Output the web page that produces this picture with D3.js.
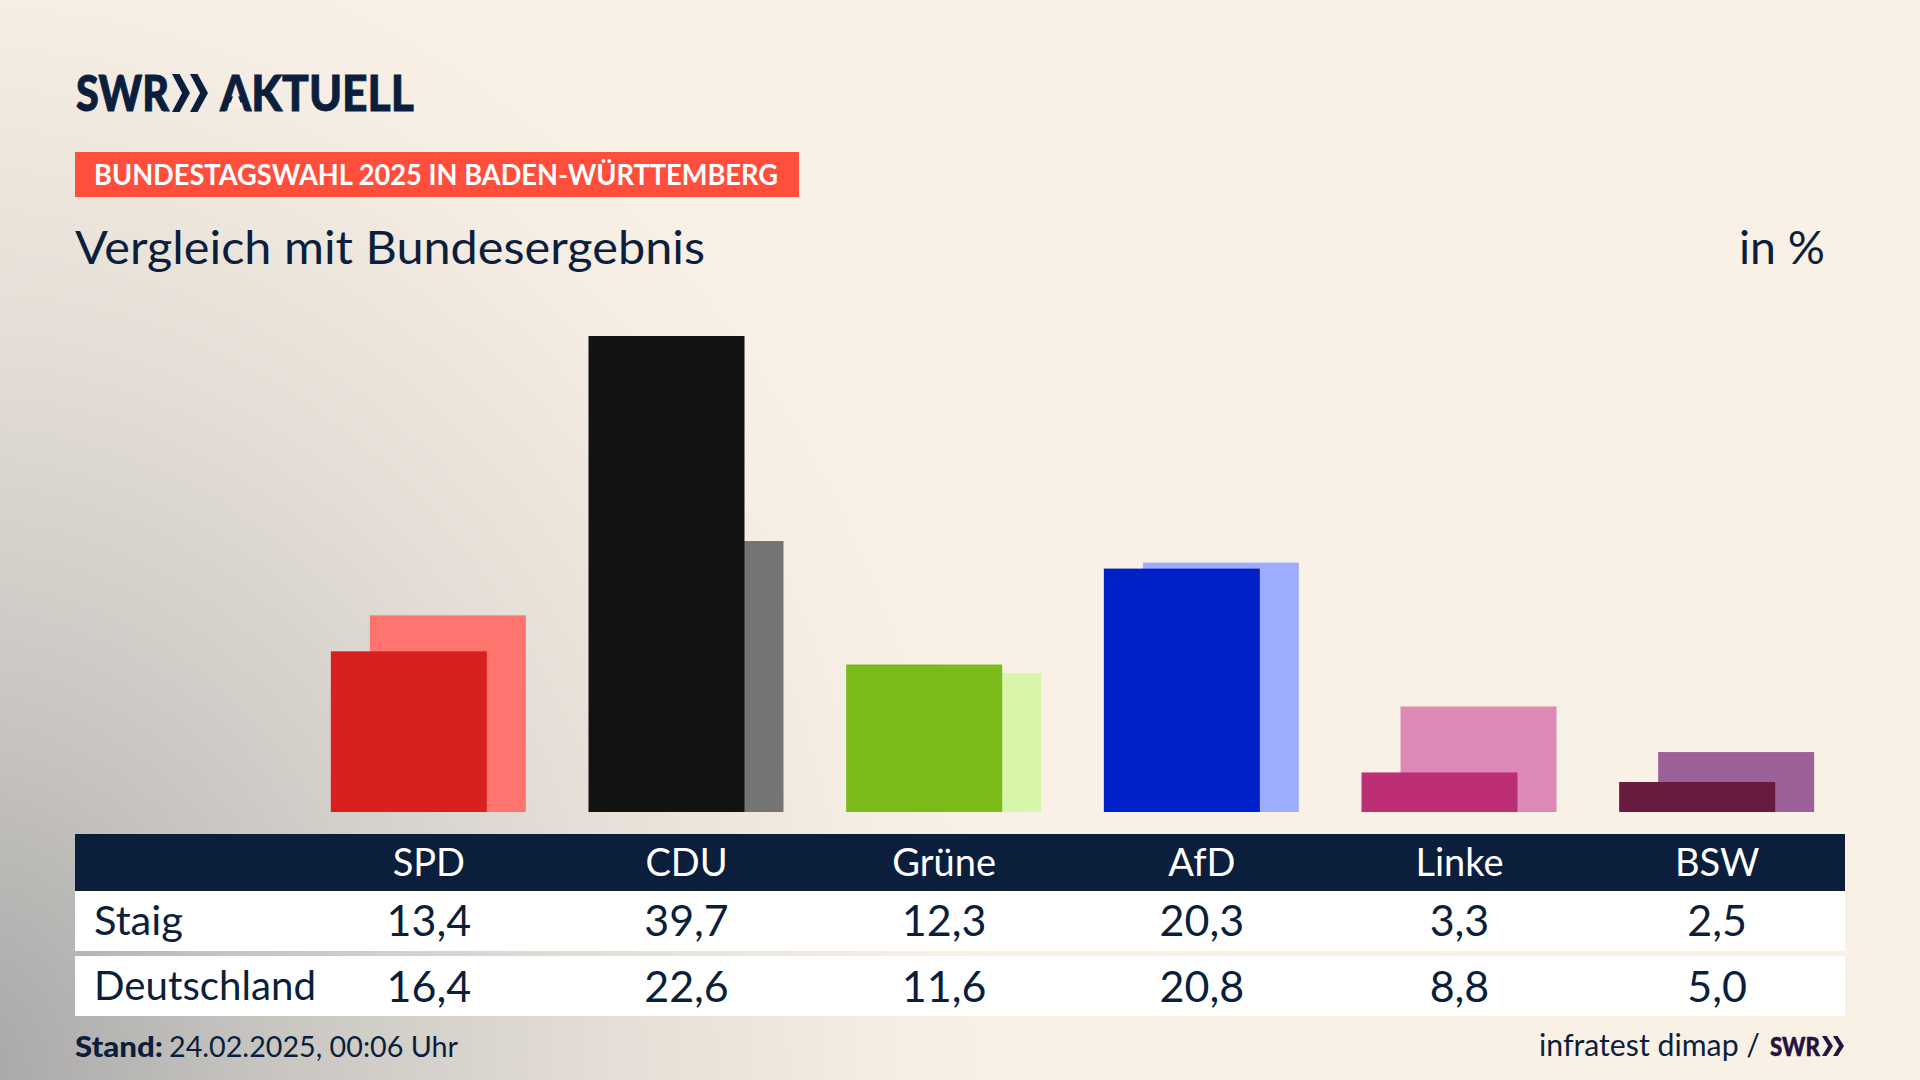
<!DOCTYPE html>
<html>
<head>
<meta charset="utf-8">
<script src="https://d3js.org/d3.v7.min.js"></script>
<style>
body { margin: 0; background: #faf1e6; }
svg { display: block; }
text { font-family: Lato, "Noto Sans", sans-serif; fill: #0b1f3d; }
</style>
</head>
<body>
<div id="chart"></div>
<script>
// Werte aus der Grafik
const parties = ["SPD", "CDU", "Grüne", "AfD", "Linke", "BSW"];
const staig = [13.4, 39.7, 12.3, 20.3, 3.3, 2.5];
const deutschland = [16.4, 22.6, 11.6, 20.8, 8.8, 5.0];
const staigColors = ["#d8201f", "#121212", "#7abb1a", "#0020c8", "#bc2f75", "#681a3f"];
const deutschlandColors = ["#ff746e", "#747472", "#d7f6aa", "#9dadff", "#de88b6", "#9c6198"];
const rowLabels = ["Staig", "Deutschland"];

const width = 1920, height = 1080;
const navy = "#0b1f3d";

const svg = d3.select("#chart").append("svg")
	.attr("width", width)
	.attr("height", height);

// Hintergrund mit grauem Verlauf von unten links
const grad = svg.append("defs").append("radialGradient")
	.attr("id", "bg")
	.attr("gradientUnits", "userSpaceOnUse")
	.attr("cx", 0).attr("cy", 0).attr("r", 1)
	.attr("gradientTransform", "translate(-50,1080) scale(1100,1250)");
[[0, "#a5a5a5"], [0.3, "#c9c6c2"], [0.6, "#e4ded6"], [0.86, "#f6eee4"], [1, "#faf1e6"]].forEach(([o, c]) => {
	grad.append("stop").attr("offset", o).attr("stop-color", c);
});
svg.append("rect").attr("width", width).attr("height", height).attr("fill", "#faf1e6");
svg.append("rect").attr("width", width).attr("height", height).attr("fill", "url(#bg)");

function label(x, y, str, size, opts = {}) {
	const t = svg.append("text")
		.attr("x", x)
		.attr("y", y)
		.attr("font-size", size)
		.attr("font-weight", opts.weight || 400)
		.attr("text-anchor", opts.anchor || "start")
		.text(str);
	if (opts.fill) t.style("fill", opts.fill);
	if (opts.len) t.attr("textLength", opts.len).attr("lengthAdjust", "spacingAndGlyphs");
	if (opts.stroke) t.style("stroke", opts.fill || navy).style("stroke-width", opts.stroke);
	return t;
}

// die zwei Pfeile aus dem SWR-Logo
function chevrons(x, y, w, h, fill) {
	[0, 0.5].forEach(f => {
		const x0 = x + f * w, s = w * 0.5;
		svg.append("path")
			.attr("d", `M${x0},${y}L${x0 + s * 0.42},${y}L${x0 + s},${y + h / 2}L${x0 + s * 0.42},${y + h}L${x0},${y + h}L${x0 + s * 0.56},${y + h / 2}Z`)
			.attr("fill", fill);
	});
}

// Kopfbereich
label(76, 111, "SWR", 49, { weight: 900, len: 93, stroke: 1 });
chevrons(172, 74, 36, 38, navy);
const logoText = label(220, 111, "AKTUELL", 49, { weight: 900, len: 194, stroke: 0.8 });
// das A im Logo hat keinen Querstrich
const a = logoText.node().getExtentOfChar(0);
const ax = a.x + a.width / 2;
svg.append("path")
	.attr("d", `M${ax - 7},108L${ax + 7},108L${ax + 2.4},96L${ax - 2.4},96Z`)
	.attr("fill", "#f8efe5");

svg.append("rect").attr("x", 75).attr("y", 152).attr("width", 724).attr("height", 45).attr("fill", "#ff4f3c");
label(94, 185, "BUNDESTAGSWAHL 2025 IN BADEN-WÜRTTEMBERG", 29, { weight: 700, fill: "#fff", len: 684 });

label(75, 264, "Vergleich mit Bundesergebnis", 47, { len: 630 });
label(1739, 264, "in %", 46, { len: 86 });

// Skalen
const x = d3.scaleBand().domain(parties).range([300, 1846]);
const y = d3.scaleLinear().domain([0, 39.7]).range([812, 336]);
const barW = 156;
const center = p => x(p) + x.bandwidth() / 2;

// Balken: Deutschland hinten, Staig davor
svg.append("g").selectAll("rect")
	.data(parties)
	.join("rect")
	.attr("x", p => center(p) - 59)
	.attr("y", (p, i) => y(deutschland[i]))
	.attr("width", barW)
	.attr("height", (p, i) => y(0) - y(deutschland[i]))
	.attr("fill", (p, i) => deutschlandColors[i]);

svg.append("g").selectAll("rect")
	.data(parties)
	.join("rect")
	.attr("x", p => center(p) - 98)
	.attr("y", (p, i) => y(staig[i]))
	.attr("width", barW)
	.attr("height", (p, i) => y(0) - y(staig[i]))
	.attr("fill", (p, i) => staigColors[i]);

// Tabelle
const tableX = 75, tableW = 1770;
svg.append("rect").attr("x", tableX).attr("y", 834).attr("width", tableW).attr("height", 57).attr("fill", navy);
svg.append("rect").attr("x", tableX).attr("y", 891).attr("width", tableW).attr("height", 60).attr("fill", "#fff");
svg.append("rect").attr("x", tableX).attr("y", 956).attr("width", tableW).attr("height", 60).attr("fill", "#fff");

parties.forEach((p, i) => {
	label(center(p), 876, p, 38, { anchor: "middle", fill: "#fff" });
	label(center(p), 936, d3.format(".1f")(staig[i]).replace(".", ","), 43, { anchor: "middle" });
	label(center(p), 1002, d3.format(".1f")(deutschland[i]).replace(".", ","), 43, { anchor: "middle" });
});
label(94, 935, rowLabels[0], 40, { len: 89 });
label(94, 1000, rowLabels[1], 40, { len: 222 });

// Fußzeile
label(75, 1057, "Stand:", 29, { weight: 900, len: 88 });
label(169, 1057, "24.02.2025, 00:06 Uhr", 29, { len: 289 });
label(1539, 1056, "infratest dimap /", 30, { len: 221 });
label(1770, 1056, "SWR", 26, { weight: 900, fill: "#24123f", len: 50, stroke: 0.5 });
chevrons(1822, 1036, 22, 20, "#24123f");
</script>
</body>
</html>
